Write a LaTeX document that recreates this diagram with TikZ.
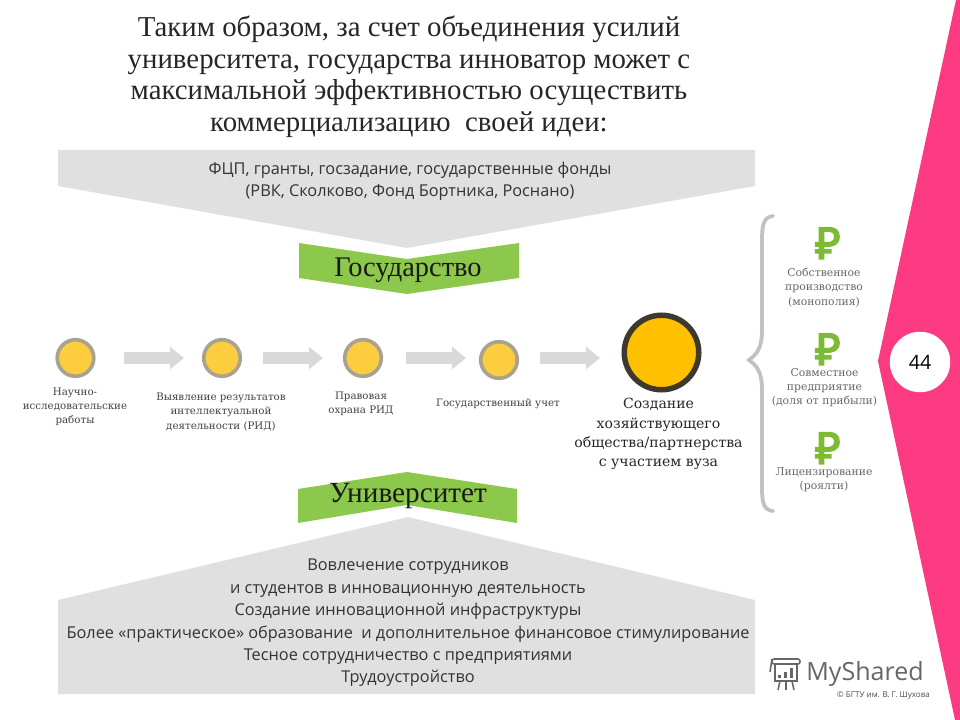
\documentclass[tikz,border=0pt]{standalone}
\usepackage{fontspec}
\setmainfont{Liberation Serif}
\newfontfamily\bodyfont{Open Sans}
\newfontfamily\slabfont{DejaVu Serif}
\newfontfamily\rublefont[FakeBold=4]{Noto Sans}
\usetikzlibrary{arrows.meta, calc, positioning}
\definecolor{panelgray}{HTML}{E0E0E0}
\definecolor{leafgreen}{HTML}{8CC84B}
\definecolor{rublegreen}{HTML}{7DBB35}
\definecolor{hotpink}{HTML}{FB3A82}
\definecolor{discgold}{HTML}{FCCD3F}
\definecolor{ringgray}{HTML}{A8A391}
\definecolor{bigfill}{HTML}{FFC000}
\tikzset{
  titletxt/.style ={font=\fontsize{20.5}{22.4}\selectfont, align=center, text=black!85},
  bodytxt/.style  ={font=\bodyfont\fontsize{11.6}{15.9}\selectfont, align=center, text=black!80},
  bandtxt/.style  ={font=\fontsize{20.2}{22}\selectfont, text=black!90},
  steptxt/.style  ={font=\slabfont\fontsize{7.3}{10.1}\selectfont, align=center, text=black!75},
  bigtxt/.style   ={font=\slabfont\fontsize{10}{13.6}\selectfont, align=center, text=black!85},
  incometxt/.style={font=\slabfont\fontsize{7.7}{10.1}\selectfont, align=center, text=black!60},
  rublesign/.style={font=\rublefont\fontsize{31}{31}\selectfont, text=rublegreen, inner sep=0pt, text height=21pt, text depth=0pt},
  disc/.style     ={draw=ringgray, circle, minimum size=26pt, inner sep=0pt, fill=discgold, line width=2.6pt},
  bigdisc/.style  ={draw=black!75!olive, circle, minimum size=53pt, inner sep=0pt, fill=bigfill, line width=3.9pt},
  flow/.style     ={-{Triangle[length=10pt,width=15.5pt]}, line width=8pt, black!15},
  logoline/.style ={draw=black!60, line width=1.1pt},
}
\begin{document}
\begin{tikzpicture}[x=0.025cm, y=-0.025cm]
  \useasboundingbox (0,0) rectangle (960,720);
  % side band and page number
  \fill[hotpink] (956,0) -- (878,361) -- (955,720) -- (960,720) -- (960,0) -- cycle;
  \node[fill=white, circle, minimum size=43pt, inner sep=0pt, font=\bodyfont\fontsize{14}{14}\selectfont] (page) at (920,362) {44};
  % title
  \node[titletxt] (title) at (409,77) {Таким образом, за счет объединения усилий\\университета, государства инноватор может с\\максимальной эффективностью осуществить\\коммерциализацию \ своей идеи:};
  % grey panels
  \fill[panelgray] (58,150) -- (755,150) -- (755,186) -- (407,248) -- (58,186) -- cycle;
  \fill[panelgray] (58,600) -- (408,517) -- (755,600) -- (755,694) -- (58,694) -- cycle;
  \node[bodytxt] (funds) at (410,181) {ФЦП, гранты, госзадание, государственные фонды\\(РВК, Сколково, Фонд Бортника, Роснано)};
  \node[bodytxt] (campus) at (408,623) {Вовлечение сотрудников\\и студентов в инновационную деятельность\\Создание инновационной инфраструктуры\\Более «практическое» образование \ и дополнительное финансовое стимулирование\\Тесное сотрудничество с предприятиями\\Трудоустройство};
  % green bands
  \fill[leafgreen] (299,243) -- (407,259) -- (519,243) -- (519,278) -- (407,294) -- (299,278) -- cycle;
  \fill[leafgreen] (298,489) -- (407,472) -- (517,489) -- (517,523) -- (407,505) -- (298,523) -- cycle;
  \node[bandtxt] (state) at (408,270) {Государство};
  \node[bandtxt, font=\fontsize{20.8}{22}\selectfont] (univ) at (408,496) {Университет};
  % chain of steps
  \node[disc] (s1) at (75.5,358) {};
  \node[disc] (s2) at (222,358) {};
  \node[disc] (s3) at (363,358) {};
  \node[disc] (s4) at (499,360) {};
  \node[bigdisc] (s5) at (661.5,352.5) {};
  \coordinate (f1a) at (124,358); \coordinate (f1b) at (184,358);
  \coordinate (f2a) at (263,358); \coordinate (f2b) at (323,358);
  \coordinate (f3a) at (406,358); \coordinate (f3b) at (466,358);
  \coordinate (f4a) at (540,358); \coordinate (f4b) at (600,358);
  \draw[flow] (f1a) -- (f1b);
  \draw[flow] (f2a) -- (f2b);
  \draw[flow] (f3a) -- (f3b);
  \draw[flow] (f4a) -- (f4b);
  \node[steptxt] (l1) at (75,407) {Научно-\\исследовательские\\работы};
  \node[steptxt] (l2) at (221,412) {Выявление результатов\\интеллектуальной\\деятельности (РИД)};
  \node[steptxt] (l3) at (361,404) {Правовая\\охрана РИД};
  \node[steptxt] (l4) at (498,404) {Государственный учет};
  \node[bigtxt] (l5) at (658.5,434) {Создание\\хозяйствующего\\общества/партнерства\\с участием вуза};
  % brace and incomes
  \coordinate (bt) at (773,216);
  \coordinate (bb) at (773,511);
  \draw[black!24, line width=2.7pt, line cap=round]
    (bt) .. controls (764,217) and (762,224) .. (762,240) -- (762,330)
    .. controls (762,348) and (757,354) .. (749,360)
    .. controls (757,366) and (762,372) .. (762,390) -- (762,488)
    .. controls (762,504) and (764,510) .. (bb);
  \node[rublesign] (r1) at (828,244) {₽};
  \node[rublesign] (r2) at (828,350) {₽};
  \node[rublesign] (r3) at (828,449) {₽};
  \node[incometxt] (i1) at (824,287.5) {Собственное\\производство\\(монополия)};
  \node[incometxt] (i2) at (824.5,387.5) {Совместное\\предприятие\\(доля от прибыли)};
  \node[incometxt] (i3) at (824,480) {Лицензирование\\(роялти)};
  % watermark
  \node[font=\bodyfont\fontsize{17.8}{18}\selectfont, text=black!60, inner sep=0pt] (mark) at (865,674) {MyShared};
  \node[font=\bodyfont\fontsize{5.7}{6}\selectfont, text=black!70, inner sep=0pt] (src) at (883.5,696) {© БГТУ им. В. Г. Шухова};
  \draw[logoline, rounded corners=1.5pt] (772,659) rectangle (800,664);
  \draw[logoline] (775,664) rectangle (797,681);
  \draw[logoline] (772,659) -- (770,672);
  \fill[black!60] (778,675) rectangle (781,678);
  \fill[black!60] (784,672) rectangle (787,678);
  \fill[black!60] (790,668) rectangle (793,678);
  \draw[logoline] (780,681) -- (778,690);
  \draw[logoline] (786,681) -- (786,690);
  \draw[logoline] (792,681) -- (794,690);
\end{tikzpicture}
\end{document}
